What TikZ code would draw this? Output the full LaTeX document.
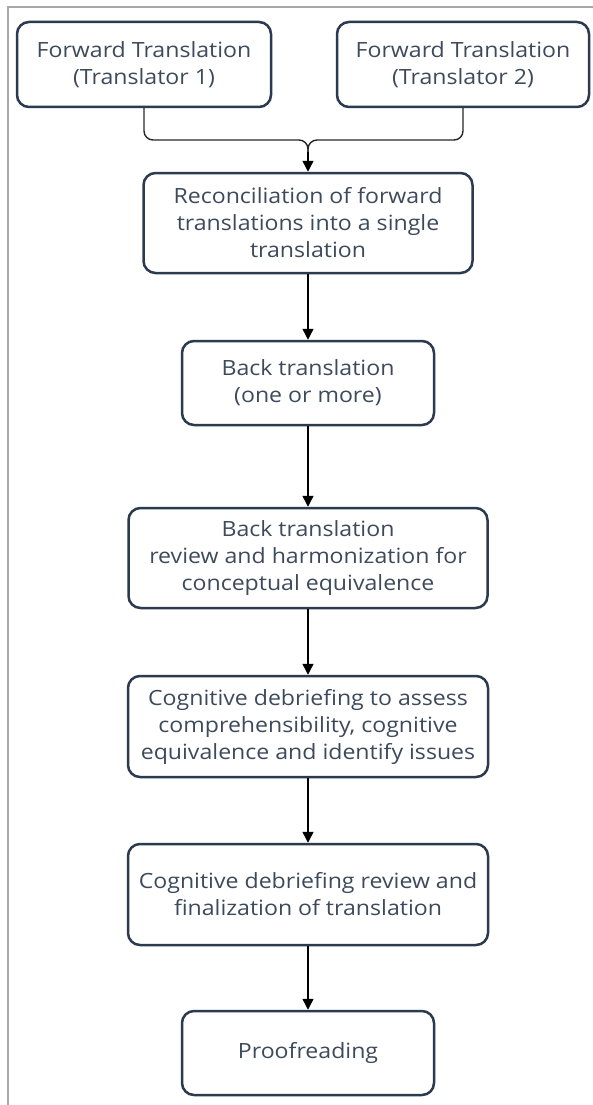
\documentclass[tikz,border=0pt]{standalone}
\usepackage{fontspec}
\setmainfont[FakeStretch=1.1]{Open Sans}
\usetikzlibrary{arrows.meta}
\definecolor{boxline}{HTML}{2B3A4E}
\definecolor{boxtext}{HTML}{3D4A5C}
\definecolor{frameline}{HTML}{A8A8A8}
\tikzset{
  stepbox/.style={draw=boxline, line width=2.5pt, rounded corners=12pt, fill=white,
    align=center, inner sep=0pt, text=boxtext,
    font=\fontsize{21}{27}\selectfont},
  flow/.style={draw=black, line width=1.4pt, -{Triangle[length=11pt,width=11pt]}},
  mergeline/.style={draw=black!85, line width=1.4pt, rounded corners=9pt},
}
\begin{document}
\begin{tikzpicture}[x=1pt,y=-1pt]
\useasboundingbox (0,0) rectangle (593,1105);
\draw[frameline, line width=2pt] (8,1105) -- (8,7) -- (593,7);
\node[stepbox, minimum width=254pt, minimum height=85pt] (f1) at (144,64.5) {Forward Translation\\(Translator 1)};
\node[stepbox, minimum width=252pt, minimum height=85pt] (f2) at (463,64.5) {Forward Translation\\(Translator 2)};
\node[stepbox, minimum width=329pt, minimum height=100pt] (r) at (308,223) {Reconciliation of forward\\translations into a single\\translation};
\node[stepbox, minimum width=252pt, minimum height=84pt] (b) at (308,383) {Back translation\\(one or more)};
\node[stepbox, minimum width=359pt, minimum height=100pt] (h) at (308,558) {Back translation\\review and harmonization for\\conceptual equivalence};
\node[stepbox, minimum width=360pt, minimum height=101pt] (c) at (308,726.5) {Cognitive debriefing to assess\\comprehensibility, cognitive\\equivalence and identify issues};
\node[stepbox, minimum width=360pt, minimum height=101pt] (d) at (308,894.5) {Cognitive debriefing review and\\finalization of translation};
\node[stepbox, minimum width=252pt, minimum height=84pt] (p) at (308,1053) {Proofreading};
\coordinate (m) at (308,140);
\coordinate (m2) at (308,152);
\draw[mergeline] (f1.south) |- (m) -- (m2);
\draw[mergeline] (f2.south) |- (m) -- (m2);
\draw[flow] (m2) -- (r.north);
\draw[flow] (r.south) -- (b.north);
\draw[flow] (b.south) -- (h.north);
\draw[flow] (h.south) -- (c.north);
\draw[flow] (c.south) -- (d.north);
\draw[flow] (d.south) -- (p.north);
\end{tikzpicture}
\end{document}
